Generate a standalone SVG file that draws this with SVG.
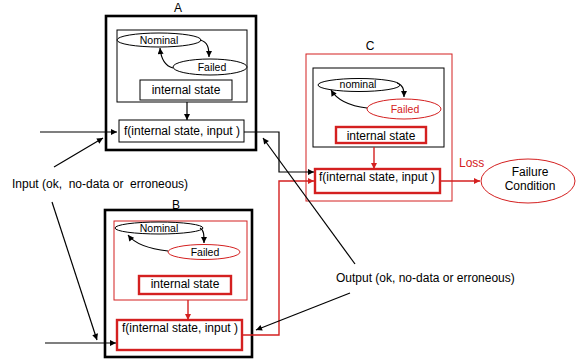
<svg xmlns="http://www.w3.org/2000/svg" width="577" height="360" viewBox="0 0 577 360">
<style>
text{font-family:"Liberation Sans",Arial,sans-serif;font-size:12px;fill:#000}
.red{fill:#d42020}
.sm{font-size:10.5px}
.mid{text-anchor:middle}
.thickK{fill:#fff;stroke:#000;stroke-width:2.6}
.thinK{fill:#fff;stroke:#000;stroke-width:1}
.thinR{fill:#fff;stroke:#d42020;stroke-width:1}
.thickR{fill:#fff;stroke:#d42020;stroke-width:2.4}
.ellK{fill:#fff;stroke:#000;stroke-width:1}
.ellR{fill:#fff;stroke:#d42020;stroke-width:1}
.lk{fill:none;stroke:#000;stroke-width:1.2}
.lr{fill:none;stroke:#d42020;stroke-width:1.4}
</style>
<defs>
<marker id="ak" viewBox="0 0 10 10" refX="10" refY="5" markerWidth="7" markerHeight="6" markerUnits="userSpaceOnUse" orient="auto"><path d="M0,0L10,5L0,10z" fill="#000"/></marker>
<marker id="ar" viewBox="0 0 10 10" refX="10" refY="5" markerWidth="7" markerHeight="6" markerUnits="userSpaceOnUse" orient="auto"><path d="M0,0L10,5L0,10z" fill="#d42020"/></marker>
</defs>

<g id="A">
<text class="mid" x="178" y="12">A</text>
<rect class="thickK" x="106" y="16" width="150" height="134"/>
<rect class="thinK" x="117" y="30" width="130" height="72"/>
<ellipse class="ellK" cx="159" cy="40" rx="42" ry="7"/>
<text class="sm mid" x="159" y="44">Nominal</text>
<ellipse class="ellK" cx="210" cy="67" rx="37" ry="8"/>
<text class="sm mid" x="212" y="71">Failed</text>
<path class="lk" d="M200,40 C208,42 209,48 209,57" marker-end="url(#ak)"/>
<path class="lk" d="M173,68 C165,66 161,58 160,48" marker-end="url(#ak)"/>
<rect class="thinK" x="140" y="80" width="92" height="20"/>
<text class="mid" x="186" y="94">internal state</text>
<rect class="thinK" x="119" y="120" width="125" height="22"/>
<text class="mid" x="182" y="135">f(internal state, input )</text>
</g>

<g id="B">
<text class="mid" x="176" y="209">B</text>
<rect class="thickK" x="105" y="210" width="147" height="147"/>
<rect class="thinR" x="114" y="221" width="133" height="79"/>
<ellipse class="ellK" cx="159" cy="228" rx="44" ry="6"/>
<text class="sm mid" x="159" y="232">Nominal</text>
<ellipse class="ellR" cx="204" cy="252" rx="36" ry="7.5"/>
<text class="sm mid" x="205" y="256">Failed</text>
<path class="lk" d="M200,228 C204,230 204,235 204,243" marker-end="url(#ak)"/>
<path class="lk" d="M168,251 C150,249 135,244 128,235" marker-end="url(#ak)"/>
<rect class="thickR" x="139" y="276" width="92" height="18"/>
<text class="mid" x="185" y="288">internal state</text>
<rect class="thickR" x="117" y="320" width="125" height="30"/>
<text class="mid" x="180" y="332">f(internal state, input )</text>
</g>

<g id="C">
<text class="mid" x="370" y="50">C</text>
<rect class="thinR" x="306" y="54" width="146" height="147"/>
<rect class="thinK" x="313" y="68" width="131" height="79"/>
<ellipse class="ellK" cx="359" cy="85" rx="41" ry="6.5"/>
<text class="sm mid" x="358" y="88">nominal</text>
<ellipse class="ellR" cx="404" cy="109" rx="37" ry="10"/>
<text class="sm mid red" x="405" y="113">Failed</text>
<path class="lk" d="M397,83 C403,85 404,89 404,97" marker-end="url(#ak)"/>
<path class="lk" d="M367,108 C350,106 337,100 331,90" marker-end="url(#ak)"/>
<rect class="thickR" x="336" y="127" width="90" height="16"/>
<text class="mid" x="381" y="140">internal state</text>
<rect class="thickR" x="315" y="169" width="125" height="24"/>
<text class="mid" x="377" y="181">f(internal state, input )</text>
</g>

<g id="failure">
<ellipse class="ellR" cx="528" cy="181" rx="47" ry="22"/>
<text class="mid" x="530" y="176">Failure</text>
<text class="mid" x="530" y="190">Condition</text>
</g>

<g id="labels">
<text x="12" y="188" xml:space="preserve" style="white-space:pre">Input (ok,  no-data or  erroneous)</text>
<text x="336" y="282">Output (ok, no-data or erroneous)</text>
<text class="red" x="459" y="167">Loss</text>
</g>

<g id="connectors">
<line class="lk" x1="187" y1="102" x2="187" y2="120" marker-end="url(#ak)"/>
<line class="lr" x1="188" y1="300" x2="188" y2="320" marker-end="url(#ar)"/>
<line class="lr" x1="374" y1="147" x2="374" y2="169" marker-end="url(#ar)"/>
<line class="lk" x1="40" y1="132" x2="117" y2="132" marker-end="url(#ak)"/>
<line class="lk" x1="54" y1="167" x2="103" y2="138" marker-end="url(#ak)"/>
<line class="lk" x1="45" y1="343" x2="116" y2="343" marker-end="url(#ak)"/>
<line class="lk" x1="52" y1="202" x2="97" y2="340" marker-end="url(#ak)"/>
<path class="lk" d="M244,132 H279 V172 H314" marker-end="url(#ak)"/>
<path class="lr" d="M242,335 H279 V181 H314" marker-end="url(#ar)"/>
<line class="lr" x1="440" y1="181" x2="480" y2="181" marker-end="url(#ar)"/>
<line class="lk" x1="355" y1="264" x2="263" y2="138" marker-end="url(#ak)"/>
<line class="lk" x1="350" y1="293" x2="256" y2="330" marker-end="url(#ak)"/>
</g>
</svg>
